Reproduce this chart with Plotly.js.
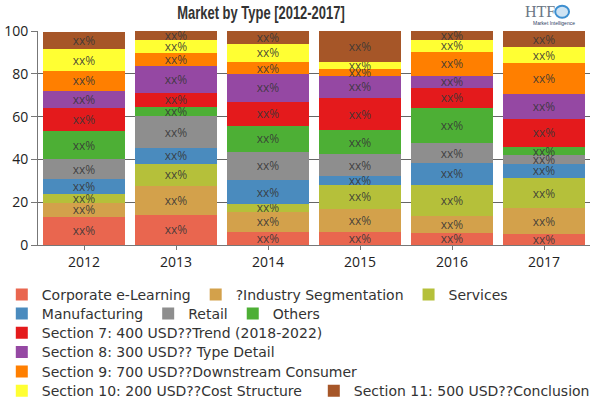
<!DOCTYPE html>
<html>
<head>
<meta charset="utf-8">
<script src="https://cdn.plot.ly/plotly-3.0.1.min.js"></script>
<style>
  html, body { margin: 0; padding: 0; background: #fff; }
  #chart { width: 600px; height: 400px; }
</style>
</head>
<body>
<div id="chart"></div>
<script>
// Years on the category axis
const years = ['2012', '2013', '2014', '2015', '2016', '2017'];

// Share of each type per year (%)
const corporateElearning = [13.2, 14.2, 6.1, 6.1, 5.8, 5.3];
const industrySegmentation = [6.6, 13.4, 9.5, 10.7, 7.9, 11.8];
const services = [4.0, 10.3, 3.4, 11.4, 14.5, 14.2];
const manufacturing = [7.0, 7.4, 11.4, 4.0, 10.0, 6.7];
const retail = [9.2, 15.0, 13.1, 10.3, 9.3, 4.0];
const others = [13.3, 4.3, 12.1, 11.2, 16.5, 3.8];
const section7 = [10.7, 6.4, 11.4, 15.0, 9.4, 13.1];
const section8 = [8.0, 12.6, 12.8, 10.3, 5.6, 11.7];
const section9 = [9.3, 6.3, 5.8, 3.2, 11.2, 14.3];
const section10 = [10.1, 5.9, 8.5, 3.5, 5.6, 7.5];
const section11 = [8.0, 4.2, 5.9, 14.3, 4.6, 7.6];

const seriesNames = [
  'Corporate e-Learning',
  '?Industry Segmentation',
  'Services',
  'Manufacturing',
  'Retail',
  'Others',
  'Section 7: 400 USD??Trend (2018-2022)',
  'Section 8: 300 USD?? Type Detail',
  'Section 9: 700 USD??Downstream Consumer',
  'Section 10: 200 USD??Cost Structure',
  'Section 11: 500 USD??Conclusion'
];
const seriesValues = [
  corporateElearning, industrySegmentation, services, manufacturing, retail,
  others, section7, section8, section9, section10, section11
];
const segmentLabel = 'xx%';

const colors = [
  '#E9664F', '#D3A14B', '#B5C03A', '#4A8BBE', '#8E8E8E', '#4DAF35',
  '#E41A1C', '#9548A3', '#FF7F00', '#FFFF33', '#A65628'
];

// Legend rows: which legend each series is listed in
const legendRow = ['legend', 'legend', 'legend', 'legend2', 'legend2', 'legend2',
  'legend3', 'legend4', 'legend5', 'legend6', 'legend7'];

const traces = seriesNames.map((name, i) => ({
  type: 'bar',
  name: name,
  x: years,
  y: seriesValues[i],
  text: years.map(() => segmentLabel),
  textposition: 'inside',
  insidetextanchor: 'middle',
  textangle: 0,
  constraintext: 'none',
  textfont: { family: 'Open Sans, sans-serif', size: 12, color: 'rgba(55,55,55,0.9)' },
  marker: { color: colors[i], line: { width: 0 } },
  legend: legendRow[i],
  hoverinfo: 'name+y'
}));

const legendFont = { family: 'DejaVu Sans, sans-serif', size: 14, color: '#333' };
const rowY = [0.263, 0.215, 0.167, 0.119, 0.070, 0.022];
function makeLegend(x, y) {
  return {
    orientation: 'h',
    xref: 'container', yref: 'container',
    x: x, xanchor: 'left',
    y: y, yanchor: 'middle',
    font: legendFont,
    bgcolor: 'rgba(0,0,0,0)',
    itemclick: false, itemdoubleclick: false,
    traceorder: 'normal'
  };
}

const layout = {
  width: 600,
  height: 400,
  margin: { l: 38, r: 10, t: 31, b: 155 },
  paper_bgcolor: '#fff',
  plot_bgcolor: '#fff',
  barmode: 'stack',
  bargap: 0.11,
  showlegend: true,
  title: {
    text: '<b>Market by Type [2012-2017]</b>',
    font: { family: 'Liberation Sans, sans-serif', size: 18, color: '#333', weight: 900 },
    x: 0.435, xanchor: 'center',
    y: 0.968, yanchor: 'middle'
  },
  xaxis: {
    type: 'category',
    showline: true, linecolor: '#777', linewidth: 1,
    ticks: 'outside', ticklen: 4, tickcolor: '#777',
    tickfont: { family: 'Open Sans, sans-serif', size: 14, color: '#222' },
    showgrid: false, fixedrange: true
  },
  yaxis: {
    range: [0, 100],
    dtick: 20,
    showline: true, linecolor: '#777', linewidth: 1,
    ticks: 'outside', ticklen: 6, tickcolor: '#777',
    tickfont: { family: 'Open Sans, sans-serif', size: 14, color: '#222' },
    showgrid: true, gridcolor: '#666', gridwidth: 1,
    zeroline: false, fixedrange: true
  },
  legend: makeLegend(0.003, rowY[0]),
  legend2: makeLegend(0.003, rowY[1]),
  legend3: makeLegend(0.003, rowY[2]),
  legend4: makeLegend(0.003, rowY[3]),
  legend5: makeLegend(0.003, rowY[4]),
  legend6: makeLegend(0.003, rowY[5]),
  legend7: makeLegend(0.523, rowY[5]),
  annotations: [
    {
      text: 'HTF', xref: 'paper', yref: 'paper', x: 0.909, y: 1.089,
      xanchor: 'center', yanchor: 'middle', showarrow: false,
      font: { family: 'Liberation Serif, serif', size: 16, color: '#6b7785' }
    },
    {
      text: 'Market Intelligence', xref: 'paper', yref: 'paper', x: 0.935, y: 1.038,
      xanchor: 'center', yanchor: 'middle', showarrow: false,
      font: { family: 'Liberation Sans, sans-serif', size: 5, color: '#2f3f5f' }
    }
  ],
  shapes: [
    {
      type: 'circle', xref: 'paper', yref: 'paper',
      x0: 0.937, x1: 0.962, y0: 1.062, y1: 1.118,
      line: { color: '#3d8fd0', width: 2 }, fillcolor: 'rgba(61,143,208,0.25)'
    }
  ]
};

// Narrow the heavy title so it reads like a condensed display face
function condenseTitle() {
  const t = document.querySelector('#chart .g-gtitle text');
  if (!t) return;
  const cx = parseFloat(t.getAttribute('x')) || 0;
  const s = 0.72;
  t.setAttribute('transform', 'translate(' + (cx * (1 - s)) + ',0) scale(' + s + ',1)');
}

Plotly.newPlot('chart', traces, layout, { displayModeBar: false }).then(condenseTitle);
</script>
</body>
</html>
